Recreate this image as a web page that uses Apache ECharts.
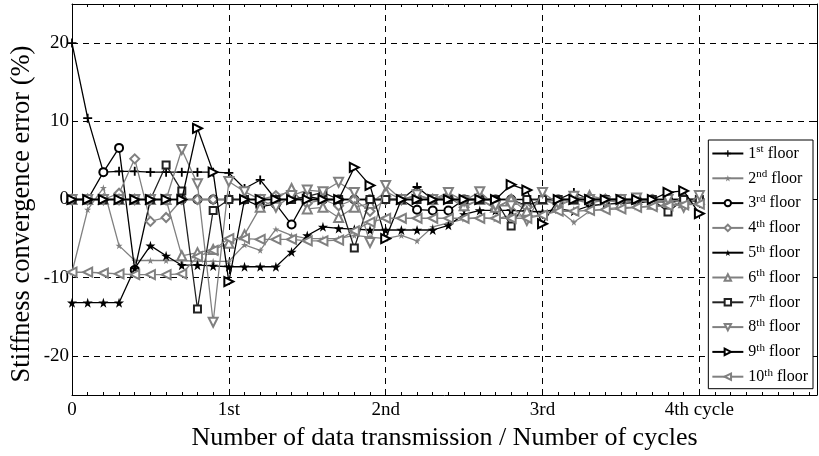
<!DOCTYPE html>
<html>
<head>
<meta charset="utf-8">
<script src="https://cdn.jsdelivr.net/npm/echarts@6/dist/echarts.min.js"></script>
<style>
  html, body { margin: 0; padding: 0; background: #fff; }
  #chart { width: 819px; height: 456px; }
</style>
</head>
<body>
<div id="chart"></div>
<script>
  // data transmission steps (0.1 cycle each)
  let steps = [0, 0.1, 0.2, 0.3, 0.4, 0.5, 0.6, 0.7, 0.8, 0.9,
    1.0, 1.1, 1.2, 1.3, 1.4, 1.5, 1.6, 1.7, 1.8, 1.9,
    2.0, 2.1, 2.2, 2.3, 2.4, 2.5, 2.6, 2.7, 2.8, 2.9,
    3.0, 3.1, 3.2, 3.3, 3.4, 3.5, 3.6, 3.7, 3.8, 3.9, 4.0]
  let cycleLabels = ['0', '1st', '2nd', '3rd', '4th cycle']
  let floorNames = ['1st floor', '2nd floor', '3rd floor', '4th floor', '5th floor',
    '6th floor', '7th floor', '8th floor', '9th floor', '10th floor']

  // stiffness convergence error (%) per floor
  let floor1 = [20, 10.4, 3.5, 3.6, 3.6, 3.5, 3.5, 3.5, 3.5, 3.5,
    3.4, 1.4, 2.5, 0, 0, 0, 0, 0, 0, 0,
    0, 0, 1.6, 0, 0, 0, 0, 0, 0, 0,
    0, 0, 0.9, 0, 0, 0, 0, 0, 0, 0, 0]
  let floor2 = [-9.3, -1.3, 1.5, -5.9, -7.8, -7.8, -7.8, -7.8, -7.9, -7.9,
    -7.9, -5.8, -6.5, -3.8, -4.6, -5.0, -5.0, -5.0, -4.6, -4.8,
    -5.0, -4.6, -5.3, -3.5, -3.0, -2.5, -2.3, -2.5, -2.0, -2.2,
    -2.0, -1.3, -2.9, -1.5, -1.2, -1.0, -1.0, -0.8, -0.7, -0.6, -0.5]
  let floor3 = [0, 0, 3.5, 6.6, -9.0, 0, 0, 0, 0, 0,
    0, 0, -0.9, -0.6, -3.2, 0.4, 0, 0, 0, 0,
    0, 0, -1.3, -1.4, -1.4, 0, 0, 0, 0, -0.8,
    0, 0, 0, 0, 0, 0, 0, 0, 0, 0, 0]
  let floor4 = [0, 0, 0, 0.8, 5.2, -2.8, -2.3, 0, 0, 0,
    0, 0, 0, 0.5, 1.0, -0.5, 0, -0.8, 0, -1.5,
    0, 0, 0, 0, 0.3, -1.0, 0, -1.2, 0, -1.0,
    0, -0.6, 0, -0.5, 0, 0, -0.4, 0, -0.3, 0, 0]
  let floor5 = [-13.2, -13.2, -13.2, -13.2, -8.8, -5.9, -7.2, -8.4, -8.4, -8.5,
    -8.6, -8.6, -8.6, -8.6, -6.7, -4.6, -3.5, -3.7, -3.8, -3.9,
    -3.9, -3.9, -3.9, -3.9, -3.3, -1.9, -1.4, -1.4, -1.4, -1.5,
    -1.6, -1.2, -1.5, -0.8, -0.6, -0.5, -0.4, -0.3, -0.3, -0.2, -0.2]
  let floor6 = [0, 0, 0, 0, 0, 0, 0, -7.2, -6.8, -6.4,
    -5.6, -4.5, -1.0, 0, 1.4, -1.2, -1.0, -2.3, -1.0, -0.5,
    1.0, 0, 0.5, 0, 0.6, -0.8, 0, -1.0, 0, -1.5,
    0, -0.8, 0, 0.5, 0, -0.5, 0, -0.6, 0, -0.4, 0]
  let floor7 = [0, 0, 0, 0, 0, 0, 4.4, 1.1, -14.0, -1.4,
    0, 0, 0, 0, 0, 0.4, 0.9, 0, -6.2, 0,
    0, 0, 0, 0, 0, 0, 0, 0, -3.4, 0,
    0, 0, 0, 0, 0, 0, 0, 0, -1.6, 0, 0]
  let floor8 = [0, 0, 0, 0, 0, 0, 0, 6.4, 2.0, -15.7,
    2.3, 1.0, 0, -1.0, 0.5, 1.2, 1.0, 2.2, 0.9, -5.5,
    1.8, 0, 0.6, 0, 0.9, -0.2, 1.0, -0.8, -0.8, -2.7,
    0.9, -0.5, 0.4, 0, -0.3, 0, 0.2, -0.5, 0, -1.0, 0.5]
  let floor9 = [0, 0, 0, 0, 0, 0, 0, 0, 9.1, 3.5,
    -10.5, 0, 0, 0, 0, 0, 0, 0, 4.1, 1.8,
    -5.0, 0, 0, 0, 0, 0, 0, 0, 1.9, 1.2,
    -3.1, 0, 0, 0, 0, 0, 0, 0, 0.9, 1.1, -1.8]
  let floor10 = [-9.3, -9.3, -9.4, -9.5, -9.6, -9.6, -9.6, -9.5, -7.3, -6.5,
    -5.0, -5.0, -5.1, -5.1, -5.1, -5.3, -5.3, -5.2, -4.0, -2.9,
    -2.4, -2.4, -2.4, -2.4, -2.4, -2.4, -2.4, -2.4, -2.4, -2.4,
    -2.0, -1.5, -1.5, -1.4, -1.3, -1.2, -1.0, -0.9, -0.8, -0.7, -0.6]

  let floorData = [floor1, floor2, floor3, floor4, floor5, floor6, floor7, floor8, floor9, floor10]

  let BLACK = '#000'
  let GRAY = '#808080'
  let FONT = 'Liberation Serif'
  let plusPath = 'path://M4,0h2v4h4v2h-4v4h-2v-4h-4v-2h4z'
  let starPath = 'path://M50,0 L61,35 L98,35 L68,57 L79,91 L50,70 L21,91 L32,57 L2,35 L39,35 Z'

  // marker style for each floor
  let markers = [
    {symbol: plusPath, rotate: 0, size: 9, color: BLACK, fill: BLACK},
    {symbol: starPath, rotate: 0, size: 7, color: GRAY, fill: GRAY},
    {symbol: 'emptyCircle', rotate: 0, size: 8, color: BLACK, fill: '#fff'},
    {symbol: 'emptyDiamond', rotate: 0, size: 9, color: GRAY, fill: '#fff'},
    {symbol: starPath, rotate: 0, size: 10, color: BLACK, fill: BLACK},
    {symbol: 'emptyTriangle', rotate: 0, size: 9, color: GRAY, fill: '#fff'},
    {symbol: 'emptyRect', rotate: 0, size: 7, color: '#222', fill: '#fff'},
    {symbol: 'emptyTriangle', rotate: 180, size: 9, color: GRAY, fill: '#fff'},
    {symbol: 'emptyTriangle', rotate: -90, size: 9, color: BLACK, fill: '#fff'},
    {symbol: 'emptyTriangle', rotate: 90, size: 9, color: GRAY, fill: '#fff'}
  ]

  let series = []
  floorData.forEach((vals, k) => {
    let m = markers[k]
    series.push({
      name: floorNames[k],
      type: 'line',
      z: 2 + k,
      data: steps.map((x, i) => [x, vals[i]]),
      symbol: m.symbol,
      symbolSize: m.size,
      symbolRotate: m.rotate,
      showAllSymbol: true,
      lineStyle: {color: m.color, width: 1.3},
      itemStyle: {color: m.color, borderColor: m.color, borderWidth: m.fill === '#fff' ? 1.2 : 0}
    })
  })

  let dash = {color: BLACK, type: [6, 5], width: 1}
  let axisBlack = {show: true, onZero: false, lineStyle: {color: BLACK, width: 1}}
  let axisHidden = {show: false, onZero: false}
  let noLabel = {show: false}
  let innerTick = len => ({show: true, inside: true, length: len, lineStyle: {color: BLACK}})

  let box = {left: 72, right: 2, top: 4, bottom: 61}

  let chart = echarts.init(document.getElementById('chart'))
  chart.setOption({
    animation: false,
    backgroundColor: '#fff',
    textStyle: {fontFamily: FONT},
    grid: [
      // main plot box, y from -25 to 25
      box,
      // overlay box for the labelled y range -20..20
      {left: 72, right: 2, top: 43.1, bottom: 100.1},
      // same box again, only for the minor x ticks
      box
    ],
    xAxis: [
      {
        type: 'value', gridIndex: 0, position: 'bottom',
        min: 0, max: 4.75, interval: 1,
        axisLine: axisBlack, axisTick: innerTick(5),
        splitLine: {show: true, lineStyle: dash},
        name: 'Number of data transmission / Number of cycles',
        nameLocation: 'middle',
        nameGap: 29,
        nameTextStyle: {fontFamily: FONT, fontSize: 26, color: BLACK},
        axisLabel: {
          fontFamily: FONT, fontSize: 19, color: BLACK, margin: 6,
          showMaxLabel: false,
          formatter: v => (Math.abs(v - Math.round(v)) < 1e-6 && cycleLabels[Math.round(v)] !== undefined) ? cycleLabels[Math.round(v)] : ''
        }
      },
      {
        type: 'value', gridIndex: 0, position: 'top',
        min: 0, max: 4.75, interval: 1,
        axisLine: axisBlack, axisTick: innerTick(5),
        splitLine: {show: false}, axisLabel: noLabel
      },
      {type: 'value', gridIndex: 1, show: false, min: 0, max: 4.75, axisLine: axisHidden},
      // minor ticks every 0.1 cycle
      {
        type: 'value', gridIndex: 2, position: 'bottom',
        min: 0, max: 4.75, interval: 0.1,
        axisLine: axisHidden, axisTick: innerTick(3),
        splitLine: {show: false}, axisLabel: noLabel
      },
      {
        type: 'value', gridIndex: 2, position: 'top',
        min: 0, max: 4.75, interval: 0.1,
        axisLine: axisHidden, axisTick: innerTick(3),
        splitLine: {show: false}, axisLabel: noLabel
      }
    ],
    yAxis: [
      {
        type: 'value', gridIndex: 0, position: 'left',
        min: -25, max: 25, interval: 5,
        axisLine: axisBlack, axisTick: {show: false},
        splitLine: {show: false}, axisLabel: noLabel
      },
      {
        type: 'value', gridIndex: 0, position: 'right',
        min: -25, max: 25, interval: 5,
        axisLine: axisBlack, axisTick: {show: false},
        splitLine: {show: false}, axisLabel: noLabel
      },
      {
        type: 'value', gridIndex: 1, position: 'left',
        min: -20, max: 20, interval: 10,
        axisLine: axisHidden, axisTick: innerTick(5),
        splitLine: {show: true, lineStyle: dash},
        axisLabel: {fontFamily: FONT, fontSize: 19, color: BLACK, margin: 3}
      },
      {
        type: 'value', gridIndex: 1, position: 'right',
        min: -20, max: 20, interval: 10,
        axisLine: axisHidden, axisTick: innerTick(5),
        splitLine: {show: false}, axisLabel: noLabel
      },
      {type: 'value', gridIndex: 2, show: false, min: -25, max: 25, axisLine: axisHidden}
    ],
    graphic: [{
      type: 'text',
      x: 22,
      y: 214,
      rotation: Math.PI / 2,
      style: {
        text: 'Stiffness convergence error (%)',
        fontFamily: FONT,
        fontSize: 26.5,
        fill: BLACK,
        align: 'center',
        verticalAlign: 'middle'
      }
    }],
    legend: {
      data: floorNames,
      orient: 'vertical',
      right: 6,
      top: 140,
      backgroundColor: '#fff',
      borderColor: BLACK,
      borderWidth: 1,
      borderRadius: 0,
      padding: [4, 5, 4, 3],
      itemGap: 7.3,
      itemWidth: 31,
      itemHeight: 8,
      textStyle: {
        fontFamily: FONT, fontSize: 16, color: BLACK,
        rich: {
          n: {fontFamily: FONT, fontSize: 16, color: BLACK},
          s: {fontFamily: FONT, fontSize: 11, color: BLACK, verticalAlign: 'top', padding: [0, 0, 8, 0]}
        }
      },
      formatter: name => {
        let m = name.match(/^(\d+)(st|nd|rd|th) (.*)$/)
        return '{n|' + m[1] + '}{s|' + m[2] + '}{n| ' + m[3] + '}'
      }
    },
    series: series
  })
</script>
</body>
</html>
